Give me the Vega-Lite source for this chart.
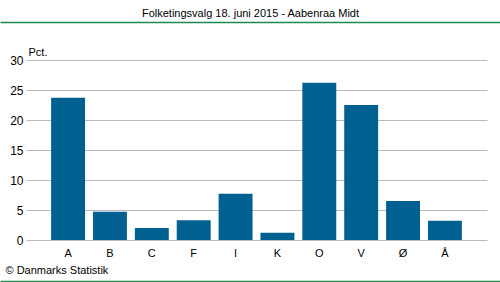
{
  "$schema": "https://vega.github.io/schema/vega-lite/v6.json",
  "width": 461,
  "height": 180,
  "autosize": "none",
  "padding": {"left": 26, "top": 60, "right": 13, "bottom": 42},
  "background": "white",
  "config": {
    "view": {"stroke": null},
    "font": "Liberation Sans",
    "axis": {"labelFont": "Liberation Sans", "titleFont": "Liberation Sans", "labelColor": "#000000", "titleColor": "#000000"}
  },
  "title": {
    "text": "Folketingsvalg 18. juni 2015 - Aabenraa Midt",
    "fontSize": 11,
    "fontWeight": "normal",
    "font": "Liberation Sans",
    "color": "#000000",
    "anchor": "middle",
    "dx": -6,
    "offset": 3
  },
  "data": {
    "values": [
      {"parti": "A", "pct": 23.7},
      {"parti": "B", "pct": 4.7},
      {"parti": "C", "pct": 2.0},
      {"parti": "F", "pct": 3.3},
      {"parti": "I", "pct": 7.7},
      {"parti": "K", "pct": 1.2},
      {"parti": "O", "pct": 26.2},
      {"parti": "V", "pct": 22.5},
      {"parti": "Ø", "pct": 6.5},
      {"parti": "Å", "pct": 3.2}
    ]
  },
  "resolve": {"scale": {"x": "independent"}, "axis": {"x": "independent"}},
  "layer": [
    {
      "mark": {"type": "bar", "color": "#006090"},
      "encoding": {
        "x": {
          "field": "parti",
          "type": "nominal",
          "sort": null,
          "scale": {"paddingInner": 0.19, "paddingOuter": 0.6},
          "axis": {
            "orient": "bottom",
            "domain": false,
            "ticks": false,
            "labelAngle": 0,
            "labelFontSize": 11,
            "labelPadding": 7,
            "title": "© Danmarks Statistik",
            "titleFontSize": 11,
            "titleFontWeight": "normal",
            "titleAnchor": "start",
            "titleAlign": "left",
            "titleBaseline": "middle",
            "titleX": -21,
            "titleY": 30
          }
        },
        "y": {
          "field": "pct",
          "type": "quantitative",
          "scale": {"domain": [0, 30], "nice": false},
          "axis": {
            "values": [0, 5, 10, 15, 20, 25, 30],
            "domain": false,
            "ticks": false,
            "gridColor": "#b8b8c0",
            "gridOpacity": 1,
            "gridWidth": 1,
            "labelFontSize": 12,
            "labelPadding": 3,
            "title": "Pct.",
            "titleFontSize": 11,
            "titleFontWeight": "normal",
            "titleAngle": 0,
            "titleAlign": "left",
            "titleBaseline": "alphabetic",
            "titleX": 2,
            "titleY": -5
          }
        }
      }
    },
    {
      "mark": {"type": "point", "opacity": 0},
      "encoding": {
        "x": {
          "field": "parti",
          "type": "nominal",
          "sort": null,
          "scale": {"type": "point", "range": [-26, 474]},
          "axis": {
            "orient": "top",
            "offset": 38,
            "labels": false,
            "ticks": false,
            "grid": false,
            "domainColor": "#1a8a50",
            "domainWidth": 1.5,
            "title": null
          }
        }
      }
    },
    {
      "mark": {"type": "point", "opacity": 0},
      "encoding": {
        "x": {
          "field": "parti",
          "type": "nominal",
          "sort": null,
          "scale": {"type": "point", "range": [-26, 474]},
          "axis": {
            "orient": "bottom",
            "offset": 41,
            "labels": false,
            "ticks": false,
            "grid": false,
            "domainColor": "#1a8a50",
            "domainWidth": 1.5,
            "title": null
          }
        }
      }
    }
  ]
}
